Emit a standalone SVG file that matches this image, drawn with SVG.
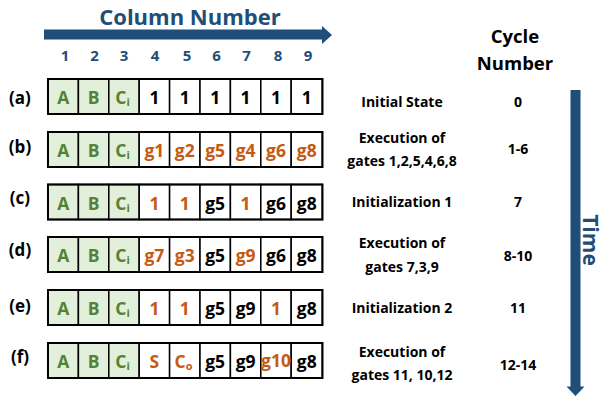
<svg xmlns="http://www.w3.org/2000/svg" width="602" height="397" viewBox="0 0 602 397">
  <style>
    text { font-family: "Open Sans", "Lato", sans-serif; font-weight: bold; text-anchor: middle; }
    .in { fill: #E2EFDA; stroke: #000; stroke-width: 1.5; }
    .cell { fill: #fff; stroke: #000; stroke-width: 1.5; }
    .frame { fill: none; stroke: #000; stroke-width: 2; }
    .v { font-size: 17.5px; fill: #000; }
    .g { fill: #548235; }
    .o { fill: #C55A11; }
    .lbl { font-size: 17px; fill: #000; }
    .colnum { font-size: 15px; fill: #1F4E79; }
    .desc { font-size: 14px; fill: #000; }
    .blue { fill: #1F4E79; }
    .sub { font-size: 11px; }
  </style>
  <defs>
    <!-- one memory row: three input cells + six work cells -->
    <g id="rowbase">
      <rect class="in" x="48" y="0" width="30.4" height="35"/>
      <rect class="in" x="78.4" y="0" width="30.4" height="35"/>
      <rect class="in" x="108.8" y="0" width="30.4" height="35"/>
      <rect class="cell" x="139.2" y="0" width="30.4" height="35"/>
      <rect class="cell" x="169.6" y="0" width="30.4" height="35"/>
      <rect class="cell" x="200" y="0" width="30.4" height="35"/>
      <rect class="cell" x="230.4" y="0" width="30.4" height="35"/>
      <rect class="cell" x="260.8" y="0" width="30.4" height="35"/>
      <rect class="cell" x="291.2" y="0" width="31.2" height="35"/>
      <rect class="frame" x="48" y="0" width="274.4" height="35"/>
      <text class="v g" x="63.2" y="25">A</text>
      <text class="v g" x="93.6" y="25">B</text>
      <text class="v g" x="122.5" y="25">C<tspan class="sub" dy="2">i</tspan></text>
    </g>
  </defs>

  <!-- headings -->
  <g id="column-heading">
    <text class="blue" x="190" y="25" font-size="22">Column Number</text>
    <text class="colnum" x="65" y="61">1</text>
    <text class="colnum" x="94.5" y="61">2</text>
    <text class="colnum" x="124" y="61">3</text>
    <text class="colnum" x="155" y="61">4</text>
    <text class="colnum" x="187" y="61">5</text>
    <text class="colnum" x="216.5" y="61">6</text>
    <text class="colnum" x="246.5" y="61">7</text>
    <text class="colnum" x="278" y="61">8</text>
    <text class="colnum" x="308" y="61">9</text>
  </g>
  <g id="cycle-heading">
    <text x="515" y="43" font-size="18.5" fill="#000">Cycle</text>
    <text x="515" y="70" font-size="18.5" fill="#000">Number</text>
  </g>
  <g id="time-label">
    <text class="blue" font-size="21" transform="translate(583 240) rotate(90)">Time</text>
  </g>

  <!-- axis arrows -->
  <g id="connectors" fill="#1F4E79">
    <path d="M44 29.5 H322 V26 L332 35 L322 44 V39.5 H44 Z"/>
    <path d="M570.5 90 H580.5 V386.5 H584.5 L575.5 396 L566.5 386.5 H570.5 Z"/>
  </g>

  <!-- (a) initial state -->
  <g id="row-a">
    <text class="lbl" x="20" y="104">(a)</text>
    <use href="#rowbase" y="79"/>
    <text class="v" x="154.4" y="104">1</text>
    <text class="v" x="184.8" y="104">1</text>
    <text class="v" x="215.2" y="104">1</text>
    <text class="v" x="245.6" y="104">1</text>
    <text class="v" x="276" y="104">1</text>
    <text class="v" x="306.8" y="104">1</text>
    <text class="desc" x="402" y="107">Initial State</text>
    <text class="desc" x="518" y="107">0</text>
  </g>

  <!-- (b) gates 1,2,5,4,6,8 -->
  <g id="row-b">
    <text class="lbl" x="20" y="153">(b)</text>
    <use href="#rowbase" y="132"/>
    <text class="v o" x="154.4" y="157">g1</text>
    <text class="v o" x="184.8" y="157">g2</text>
    <text class="v o" x="215.2" y="157">g5</text>
    <text class="v o" x="245.6" y="157">g4</text>
    <text class="v o" x="276" y="157">g6</text>
    <text class="v o" x="306.8" y="157">g8</text>
    <text class="desc" x="402" y="143">Execution of</text>
    <text class="desc" x="402" y="166">gates 1,2,5,4,6,8</text>
    <text class="desc" x="518" y="154">1-6</text>
  </g>

  <!-- (c) initialization 1 -->
  <g id="row-c">
    <text class="lbl" x="20" y="204">(c)</text>
    <use href="#rowbase" y="184.5"/>
    <text class="v o" x="154.4" y="209.5">1</text>
    <text class="v o" x="184.8" y="209.5">1</text>
    <text class="v" x="215.2" y="209.5">g5</text>
    <text class="v o" x="245.6" y="209.5">1</text>
    <text class="v" x="276" y="209.5">g6</text>
    <text class="v" x="306.8" y="209.5">g8</text>
    <text class="desc" x="402" y="207">Initialization 1</text>
    <text class="desc" x="518" y="207">7</text>
  </g>

  <!-- (d) gates 7,3,9 -->
  <g id="row-d">
    <text class="lbl" x="20" y="256">(d)</text>
    <use href="#rowbase" y="237"/>
    <text class="v o" x="154.4" y="262">g7</text>
    <text class="v o" x="184.8" y="262">g3</text>
    <text class="v" x="215.2" y="262">g5</text>
    <text class="v o" x="245.6" y="262">g9</text>
    <text class="v" x="276" y="262">g6</text>
    <text class="v" x="306.8" y="262">g8</text>
    <text class="desc" x="402" y="248">Execution of</text>
    <text class="desc" x="402" y="271.5">gates 7,3,9</text>
    <text class="desc" x="518" y="261">8-10</text>
  </g>

  <!-- (e) initialization 2 -->
  <g id="row-e">
    <text class="lbl" x="20" y="311.5">(e)</text>
    <use href="#rowbase" y="290"/>
    <text class="v o" x="154.4" y="315">1</text>
    <text class="v o" x="184.8" y="315">1</text>
    <text class="v" x="215.2" y="315">g5</text>
    <text class="v" x="245.6" y="315">g9</text>
    <text class="v o" x="276" y="315">1</text>
    <text class="v" x="306.8" y="315">g8</text>
    <text class="desc" x="402" y="313">Initialization 2</text>
    <text class="desc" x="518" y="313">11</text>
  </g>

  <!-- (f) gates 11,10,12 -->
  <g id="row-f">
    <text class="lbl" x="20" y="363">(f)</text>
    <use href="#rowbase" y="343"/>
    <text class="v o" x="154.4" y="368">S</text>
    <text class="v o" x="183.5" y="368">C<tspan class="sub" dy="2">o</tspan></text>
    <text class="v" x="215.2" y="368">g5</text>
    <text class="v" x="245.6" y="368">g9</text>
    <text class="v o" x="276" y="367" font-size="12.5">g10</text>
    <text class="v" x="306.8" y="368">g8</text>
    <text class="desc" x="402" y="356.5">Execution of</text>
    <text class="desc" x="402" y="380">gates 11, 10,12</text>
    <text class="desc" x="518" y="370">12-14</text>
  </g>
</svg>
